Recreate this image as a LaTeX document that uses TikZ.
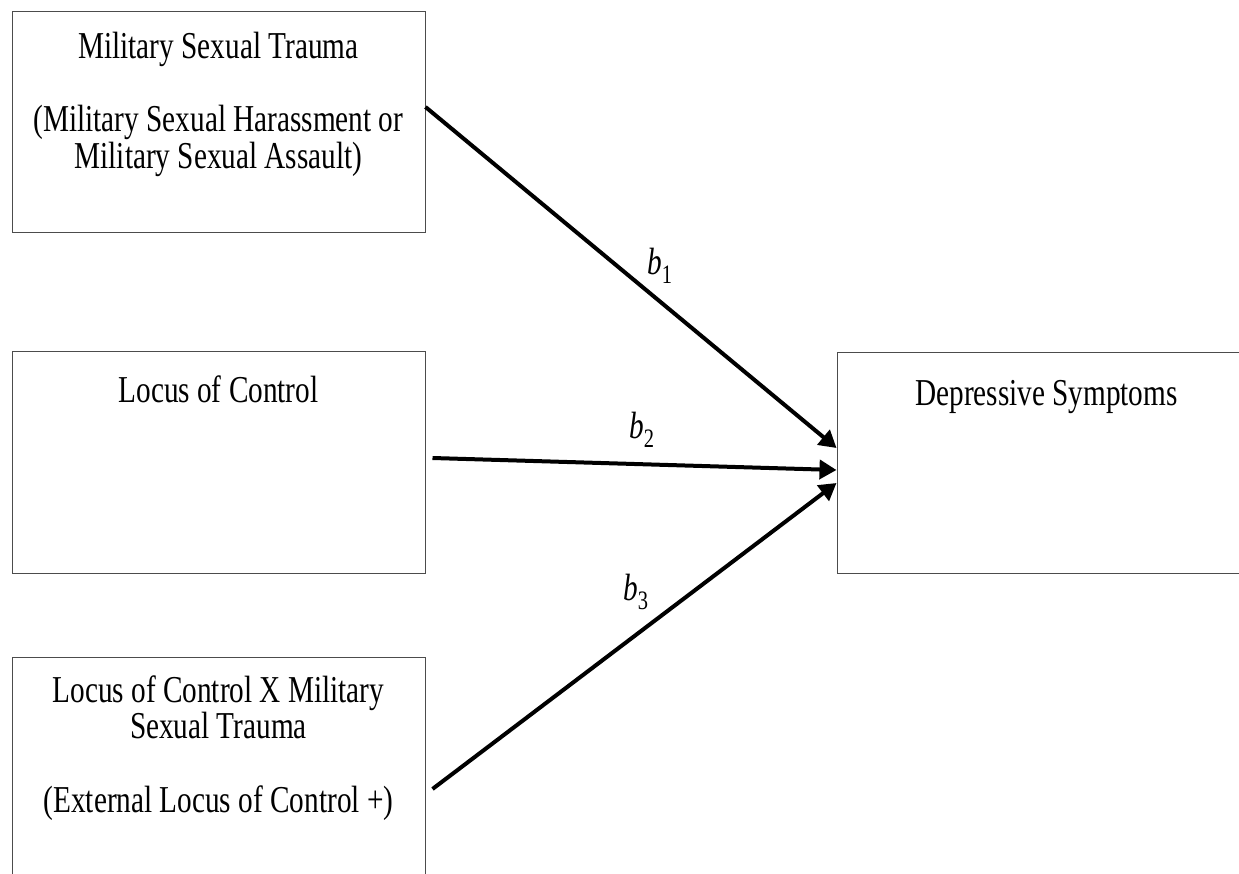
\documentclass[tikz,border=0pt]{standalone}
\usepackage{fontspec}
\setmainfont{Liberation Serif}[FakeStretch=0.77]
\usetikzlibrary{arrows.meta}
\begin{document}
\begin{tikzpicture}[x=1pt,y=-1pt,
  box/.style={draw=black!70, line width=1pt, inner sep=0pt,
    minimum width=413pt, minimum height=221pt},
  txt/.style={font=\fontsize{38}{40}\selectfont, inner sep=0pt, anchor=base},
  coef/.style={font=\fontsize{38}{40}\selectfont, inner sep=0pt},
  effect/.style={line width=4pt, -{Triangle[length=17pt,width=19pt]}}]
\useasboundingbox (0,0) rectangle (1239,874);
\clip (0,0) rectangle (1239,874);

% predictor boxes
\node[box] (mst) at (218.5,122.5) {};
\node[box] (loc) at (218.5,462.5) {};
\node[box] (inter) at (218.5,767.5) {};
% outcome box
\node[box, minimum width=419pt, minimum height=220pt] (dep) at (1046.5,463) {};

% box texts
\node[txt] (mst1) at (218.5,59) {Military Sexual Trauma};
\node[txt] (mst2) at (218.5,132) {(Military Sexual Harassment or};
\node[txt] (mst3) at (218.5,169) {Military Sexual Assault)};
\node[txt] (loc1) at (218.5,402) {Locus of Control};
\node[txt] (int1) at (218.5,702) {Locus of Control X Military};
\node[txt] (int2) at (218.5,738) {Sexual Trauma};
\node[txt] (int3) at (218.5,812) {(External Locus of Control +)};
\node[txt] (dep1) at (1046.5,405) {Depressive Symptoms};

% regression paths
\draw[effect] ([yshift=15.5pt]mst.east) -- ([yshift=15pt]dep.west);
\draw[effect] ([xshift=7pt,yshift=4.5pt]loc.east) -- ([yshift=-7pt]dep.west);
\draw[effect] ([xshift=7pt,yshift=-21.5pt]inter.east) -- ([yshift=-20pt]dep.west);

% path coefficients
\node[coef] (b1) at (660,266) {\textit{b}\textsubscript{1}};
\node[coef] (b2) at (642,430) {\textit{b}\textsubscript{2}};
\node[coef] (b3) at (636,592) {\textit{b}\textsubscript{3}};
\end{tikzpicture}
\end{document}
